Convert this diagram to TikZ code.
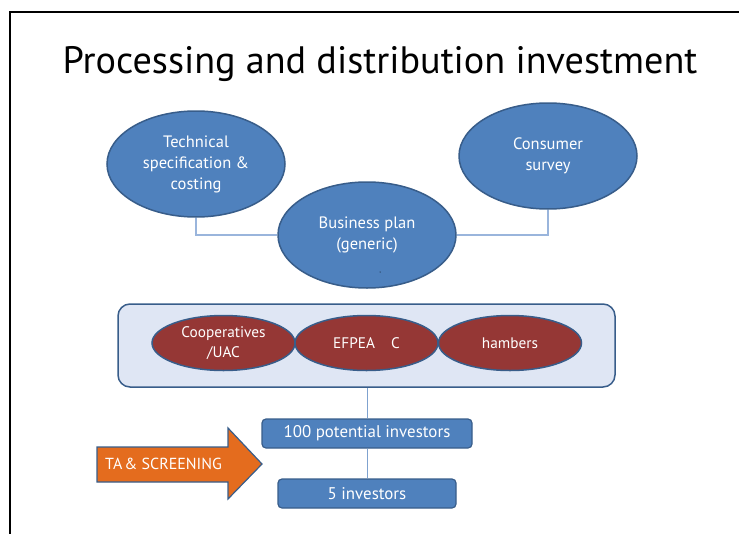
\documentclass[tikz,border=0pt]{standalone}
\usepackage{fontspec}
\setmainfont{PT Sans}
\usetikzlibrary{shapes.geometric}
\definecolor{bfill}{HTML}{4F81BD}
\definecolor{bdraw}{HTML}{385D8A}
\definecolor{rfill}{HTML}{953735}
\definecolor{ofill}{HTML}{E46C1E}
\definecolor{boxfill}{HTML}{DFE6F4}
\definecolor{conn}{HTML}{9AB5DC}
\definecolor{conntwo}{HTML}{7FA2CF}
\begin{document}
\begin{tikzpicture}[x=1pt,y=-1pt,
  blueell/.style={ellipse,fill=bfill,draw=bdraw,line width=1.5pt,minimum width=178pt,minimum height=106pt,inner sep=0pt,text=white,align=center,font=\fontsize{16.5}{21}\selectfont},
  redell/.style={ellipse,fill=rfill,draw=bdraw,line width=1.5pt,minimum width=143pt,minimum height=55pt,inner sep=0pt,text=white,align=center,font=\fontsize{15.3}{19.5}\selectfont},
  bluebox/.style={rectangle,rounded corners=4pt,fill=bfill,draw=bdraw,line width=1.2pt,minimum height=29pt,inner sep=0pt,text=white,font=\fontsize{16.9}{19}\selectfont},
  groupbox/.style={rectangle,rounded corners=12pt,fill=boxfill,draw=bdraw,line width=1.5pt,minimum width=497pt,minimum height=83pt,inner sep=0pt},
  link/.style={draw=conn,line width=1.2pt},
  linktwo/.style={draw=conntwo,line width=0.9pt},
  bigarrow/.style={fill=ofill,draw=bdraw,line width=1.2pt}]
\useasboundingbox (0,0) rectangle (739,533);
% slide frame
\draw[black,line width=2pt] (10,540) -- (10,12) -- (745,12);
% title
\node (title) at (380,64) {\fontsize{38.2}{42}\selectfont Processing and distribution investment};
% top ellipses
\node[blueell] (tech) at (196,164) {Technical\\specification \&\\costing};
\node[blueell] (cons) at (548,156) {Consumer\\survey};
\node[blueell] (plan) at (367,235) {Business plan\\(generic)};
\fill[black] (380,272) circle (0.5pt);
\draw[link] (tech.south) |- (plan.west);
\draw[link] (cons.south) |- (plan.east);
% group box
\node[groupbox] (group) at (366.5,345.5) {};
\node[redell] (coop) at (223.5,343) {Cooperatives\\/UAC};
\node[redell] (efpea) at (366.5,343) {EFPEA\hspace{16pt}C};
\node[redell] (cham) at (510,343) {hambers};
% investors
\node[bluebox,minimum width=210pt] (hundred) at (367,433.5) {100 potential investors};
\node[bluebox,minimum width=178pt] (five) at (367,493.5) {5 investors};
\draw[linktwo] (group.south -| hundred.north) -- (hundred.north);
\draw[linktwo] (hundred.south) -- (five.north);
% arrow
\draw[bigarrow] (97,447) -- (228,447) -- (228,428) -- (262,464) -- (228,499) -- (228,482) -- (97,482) -- cycle;
\node[text=white,font=\fontsize{16}{19}\selectfont,anchor=west,inner sep=0pt] (ta) at (105,464) {TA\hspace{2pt}\& SCREENING};
\end{tikzpicture}
\end{document}
